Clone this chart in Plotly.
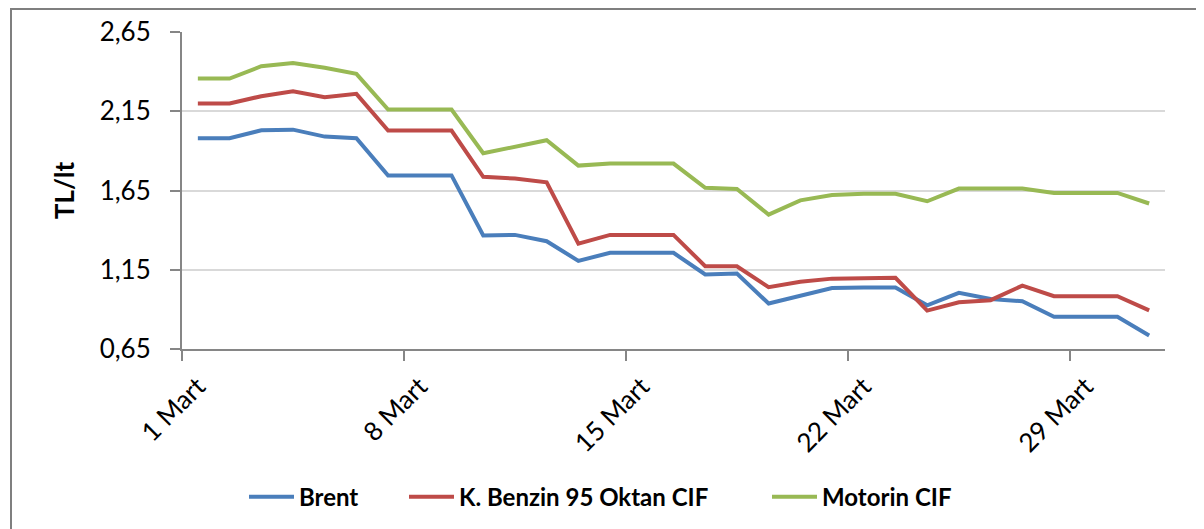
import plotly.graph_objects as go

# Mart ayı günlük fiyatlar (TL/lt)
days = list(range(1, 32))

brent = [1.98, 1.98, 2.03, 2.034, 1.99, 1.98, 1.745, 1.745, 1.745, 1.366,
         1.37, 1.33, 1.206, 1.257, 1.257, 1.257, 1.12, 1.126, 0.937, 0.987,
         1.035, 1.038, 1.038, 0.926, 1.004, 0.966, 0.951, 0.853, 0.853, 0.853,
         0.735]

benzin = [2.199, 2.199, 2.245, 2.276, 2.238, 2.26, 2.028, 2.028, 2.028, 1.736,
          1.725, 1.702, 1.315, 1.37, 1.37, 1.37, 1.172, 1.172, 1.04, 1.074,
          1.094, 1.099, 1.099, 0.892, 0.945, 0.958, 1.05, 0.983, 0.983, 0.983,
          0.894]

motorin = [2.356, 2.356, 2.434, 2.455, 2.424, 2.386, 2.161, 2.161, 2.161, 1.885,
           1.929, 1.967, 1.807, 1.82, 1.82, 1.82, 1.667, 1.66, 1.498, 1.588,
           1.622, 1.629, 1.629, 1.582, 1.662, 1.662, 1.662, 1.635, 1.635, 1.635,
           1.568]

tick_days = [1, 8, 15, 22, 29]
tick_text = ["1 Mart", "8 Mart", "15 Mart", "22 Mart", "29 Mart"]
y_ticks = [0.65, 1.15, 1.65, 2.15, 2.65]
y_text = ["0,65", "1,15", "1,65", "2,15", "2,65"]

FONT = "Lato, 'Open Sans', sans-serif"
AXIS = "#868686"

# sayfa gövdesi 8px kaydırıyor, boyut ve kenar boşlukları buna göre
W, H = 1196, 521
L, R, T, B = 174, 39, 24, 180
pw, ph = W - L - R, H - T - B

series = [
    ("Brent", brent, "#4A7EBB", "legend", 242),
    ("K. Benzin 95 Oktan CIF", benzin, "#BE4B48", "legend2", 402),
    ("Motorin CIF", motorin, "#98B954", "legend3", 765),
]

fig = go.Figure()
legends = {}
for name, vals, color, leg, px in series:
    fig.add_trace(go.Scatter(
        x=days, y=vals, name=name, mode="lines",
        line=dict(color=color, width=4), legend=leg,
    ))
    legends[leg] = dict(
        x=(px - L - 6) / pw, xanchor="left", y=-0.467, yanchor="middle",
        orientation="h", bgcolor="rgba(0,0,0,0)",
        font=dict(size=24, family=FONT, weight="bold"), itemwidth=45,
    )

fig.update_layout(
    width=W, height=H,
    margin=dict(l=L, r=R, t=T, b=B, autoexpand=False),
    paper_bgcolor="white", plot_bgcolor="white",
    font=dict(family=FONT, color="black"),
    showlegend=True,
    shapes=[dict(
        type="rect", xref="paper", yref="paper",
        x0=(3 - L) / pw, x1=(1193 - L) / pw, y0=-0.62, y1=1 + (T - 1) / ph,
        line=dict(color="#7F7F7F", width=2),
    )],
    **legends,
)

fig.update_xaxes(
    range=[0.5, 31.5],
    tickvals=tick_days, ticktext=tick_text, tickangle=-45,
    ticks="", tickfont=dict(size=26),
    ticklabelstandoff=10,
    showline=True, linecolor=AXIS, linewidth=2,
    showgrid=False, zeroline=False,
    minor=dict(tickvals=[0.5, 7.5, 14.5, 21.5, 28.5], ticks="outside",
               ticklen=10, tickwidth=2, tickcolor=AXIS, showgrid=False),
)

fig.update_yaxes(
    range=[0.65, 2.65],
    tickvals=y_ticks, ticktext=y_text,
    ticks="outside", ticklen=10, tickwidth=2, tickcolor=AXIS,
    tickfont=dict(size=26), ticklabelstandoff=14,
    showline=True, linecolor=AXIS, linewidth=2,
    showgrid=True, gridcolor="#D9D9D9", gridwidth=2, zeroline=False,
    title=dict(text="<b>TL/lt</b>", font=dict(size=26), standoff=18),
)

fig.write_html("out.html")
